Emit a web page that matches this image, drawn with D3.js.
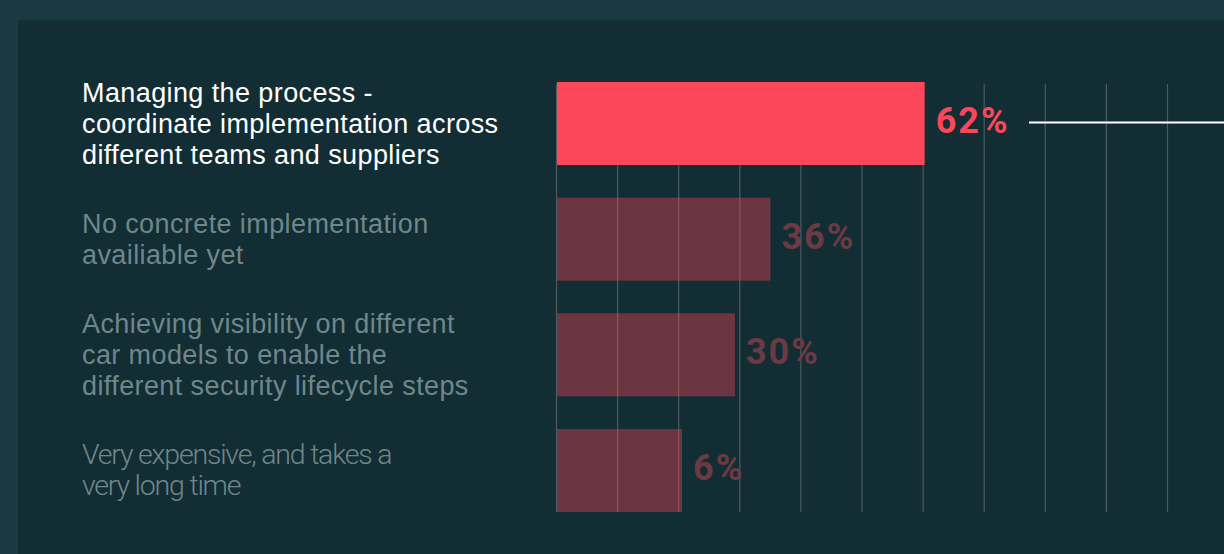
<!DOCTYPE html>
<html>
<head>
<meta charset="utf-8">
<script src="https://cdn.jsdelivr.net/npm/d3@7"></script>
<style>
  html, body { margin: 0; padding: 0; background: #193a43; }
  svg { display: block; }
</style>
</head>
<body>
<svg id="chart" width="1224" height="554"></svg>
<script>
// ---- data ----
const categories = [
  ["Managing the process -", "coordinate implementation across", "different teams and suppliers"],
  ["No concrete implementation", "availiable yet"],
  ["Achieving visibility on different", "car models to enable the", "different security lifecycle steps"],
  ["Very expensive, and takes a", "very long time"]
];
const values = [62, 36, 30, 6];
const valueLabels = ["62%", "36%", "30%", "6%"];
const highlighted = [true, false, false, false];

// ---- styles ----
const W = 1224, H = 554;
const panel = { x: 18, y: 20 };
const plot = { left: 557, right: 1150, top: 82, bottom: 512 };
const minBarWidth = 125;
const red = "#fc4659";
const muted = "#6b3a43";

const svg = d3.select("#chart");
svg.append("rect").attr("x", 0).attr("y", 0).attr("width", W).attr("height", H).attr("fill", "#193a43");
svg.append("rect").attr("x", panel.x).attr("y", panel.y).attr("width", W - panel.x).attr("height", H - panel.y).attr("fill", "#132d35");

const x = d3.scaleLinear().domain([0, 100]).range([plot.left, plot.right]);
const y = d3.scaleBand().domain(d3.range(values.length)).range([plot.top, plot.bottom]).paddingInner(0.2824).paddingOuter(0);

// decorative gridlines
const grid = d3.scaleLinear().domain([0, 10]).range([556.5, 1167.5]);
svg.append("g").selectAll("line").data(d3.range(0, 11)).join("line")
  .attr("x1", d => grid(d)).attr("x2", d => grid(d))
  .attr("y1", 84).attr("y2", plot.bottom)
  .attr("stroke", "#4b5c60").attr("stroke-width", 1.2);

// bars
svg.append("g").selectAll("rect").data(values).join("rect")
  .attr("x", x(0))
  .attr("y", (d, i) => y(i))
  .attr("width", d => Math.max(x(d) - x(0), minBarWidth))
  .attr("height", y.bandwidth())
  .attr("fill", red)
  .attr("fill-opacity", (d, i) => highlighted[i] ? 1 : 0.38);

// value labels
svg.append("g").selectAll("text").data(values).join("text")
  .attr("x", d => x(0) + Math.max(x(d) - x(0), minBarWidth) + 11)
  .attr("y", (d, i) => y(i) + y.bandwidth() / 2 + 9.5)
  .attr("font-family", "Roboto, 'DejaVu Sans', sans-serif")
  .attr("font-weight", 700)
  .attr("font-size", 36)
  .attr("letter-spacing", 2)
  .attr("fill", (d, i) => highlighted[i] ? red : muted)
  .text((d, i) => valueLabels[i]);

// connector line for highlighted
values.forEach((v, i) => {
  if (!highlighted[i]) return;
  svg.append("line")
    .attr("x1", 1029).attr("x2", W)
    .attr("y1", y(i) + y.bandwidth() / 2 - 1).attr("y2", y(i) + y.bandwidth() / 2 - 1)
    .attr("stroke", "#ffffff").attr("stroke-width", 2);
});

// category labels
const lineH = 31;
categories.forEach((lines, i) => {
  const cy = y(i) + y.bandwidth() / 2;
  const last = i === categories.length - 1;
  const t = svg.append("text")
    .attr("x", 82)
    .attr("font-family", last ? "Roboto, 'Liberation Sans', sans-serif" : "'Liberation Sans', Arial, sans-serif")
    .attr("font-weight", last ? 300 : 400)
    .attr("font-size", last ? 28.5 : 27)
    .attr("letter-spacing", last ? -1.2 : 0.4)
    .attr("fill", highlighted[i] ? "#ffffff" : "#6f878b");
  const firstBaseline = cy - (lines.length - 1) * lineH / 2 + 9.5;
  lines.forEach((s, j) => {
    t.append("tspan").attr("x", 82).attr("y", firstBaseline + j * lineH).text(s);
  });
});
</script>
</body>
</html>
